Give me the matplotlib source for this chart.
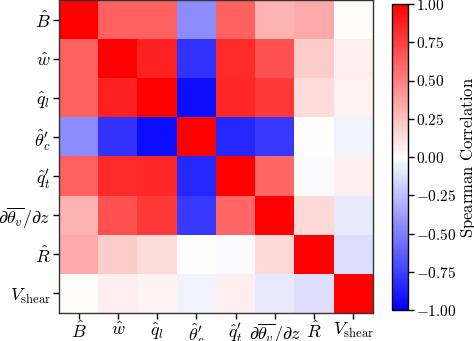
import numpy as np
import matplotlib
matplotlib.use("Agg")
import matplotlib.pyplot as plt
from matplotlib.ticker import FixedFormatter

plt.rcParams['mathtext.fontset'] = 'cm'
plt.rcParams['font.family'] = 'serif'
plt.rcParams['font.serif'] = ['DejaVu Serif']

labels = [r'$\hat{B}$', r'$\hat{w}$', r'$\hat{q}_l$', r"$\hat{\theta}^{\prime}_{c}$",
          r"$\hat{q}^{\prime}_{t}$", r'$\partial\overline{\theta_v}/\partial z$', r'$\hat{R}$',
          r'$V_{\mathrm{shear}}$']

# upper-triangle correlations (row i, col j>i)
row_B     = [0.62, 0.62, -0.45, 0.62, 0.30, 0.33, 0.01]
row_w     = [0.86, -0.80, 0.83, 0.68, 0.20, 0.07]
row_ql    = [-0.95, 0.85, 0.78, 0.14, 0.05]
row_theta = [-0.85, -0.78, 0.00, -0.05]
row_qt    = [0.60, -0.02, 0.07]
row_dth   = [0.15, -0.08]
row_R     = [-0.13]
upper_rows = [row_B, row_w, row_ql, row_theta, row_qt, row_dth, row_R]

cbar_ticks = [-1.0, -0.75, -0.5, -0.25, 0.0, 0.25, 0.5, 0.75, 1.0]
cbar_label = 'Spearman Correlation'

n = len(labels)
M = np.eye(n)
for i, r in enumerate(upper_rows):
    for k, v in enumerate(r):
        j = i + 1 + k
        M[i, j] = v
        M[j, i] = v

fig = plt.figure(figsize=(4.74, 3.41), dpi=100)
W, H = 474, 341
ax = fig.add_axes([59 / W, (H - 313) / H, 314 / W, 313 / H])
im = ax.imshow(M, cmap='bwr', vmin=-1, vmax=1, aspect='auto', interpolation='nearest')
ax.set_xticks(range(n))
ax.set_yticks(range(n))
ax.set_xticklabels(labels, fontsize=13)
ax.set_yticklabels(labels, fontsize=13)
ax.tick_params(length=4, width=1, pad=2)
for s in ax.spines.values():
    s.set_linewidth(1.0)
    s.set_color('#333333')

cax = fig.add_axes([392 / W, (H - 310) / H, 16 / W, 306 / H])
cb = fig.colorbar(im, cax=cax)
cb.set_ticks(cbar_ticks)
cb.ax.yaxis.set_major_formatter(FixedFormatter(['$%.2f$' % t if t >= 0 else '$-%.2f$' % abs(t) for t in cbar_ticks]))
cb.ax.tick_params(labelsize=11, length=4, width=1, pad=2)
cb.outline.set_linewidth(1.0)
cb.set_label(r'$\mathrm{Spearman\ Correlation}$', fontsize=12, labelpad=1)

fig.savefig('out.png', dpi=100)
